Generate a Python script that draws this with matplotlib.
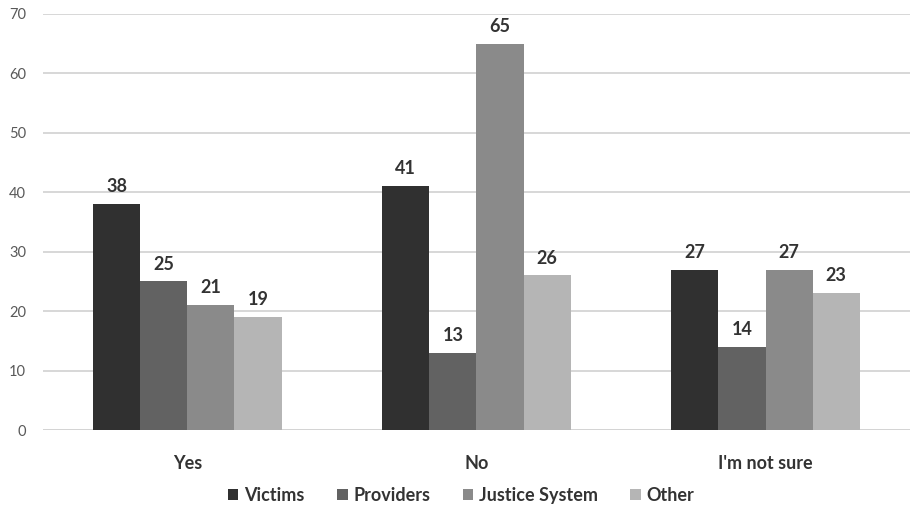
import matplotlib.pyplot as plt
import numpy as np

plt.rcParams['font.family'] = ['Lato', 'DejaVu Sans']

categories = ['Yes', 'No', "I'm not sure"]
series = ['Victims', 'Providers', 'Justice System', 'Other']
victims = [38, 41, 27]
providers = [25, 13, 14]
justice = [21, 65, 27]
other = [19, 26, 23]
values = [victims, providers, justice, other]
colors = ['#303030', '#626262', '#8a8a8a', '#b5b5b5']

fig = plt.figure(figsize=(9.11, 5.08), dpi=100)
ax = fig.add_axes([0.047, 0.1535, 0.952, 0.819])

x = np.arange(len(categories))
w = 0.163
for i, (name, vals) in enumerate(zip(series, values)):
    pos = x + (i - 1.5) * w
    bars = ax.bar(pos, vals, w, color=colors[i], label=name, zorder=3)
    for b, v in zip(bars, vals):
        ax.text(b.get_x() + b.get_width() / 2, v + 1.5, str(v), ha='center', va='bottom',
                fontsize=13, fontweight='bold', color='#333333')

ax.set_xlim(-0.5, 2.5)
ax.set_ylim(0, 70)
ax.set_yticks(range(0, 71, 10))
ax.yaxis.grid(True, color='#d4d4d4', linewidth=1.3, zorder=0)
for s in ax.spines.values():
    s.set_visible(False)
ax.axhline(0, color='#d4d4d4', linewidth=1.3, zorder=2)
ax.set_xticks(x)
ax.set_xticklabels(categories, fontsize=13, fontweight='bold', color='#333333')
ax.tick_params(axis='x', length=0, pad=18)
ax.tick_params(axis='y', length=0, pad=12, labelsize=10.5, labelcolor='#595959')

fig.legend(loc='center', bbox_to_anchor=(0.506, 0.025), ncol=4, frameon=False,
           prop={'size': 13, 'weight': 'bold'}, handlelength=0.6, handleheight=0.6,
           handletextpad=0.3, columnspacing=1.8, labelcolor='#333333')

fig.savefig('out.png', dpi=100)
